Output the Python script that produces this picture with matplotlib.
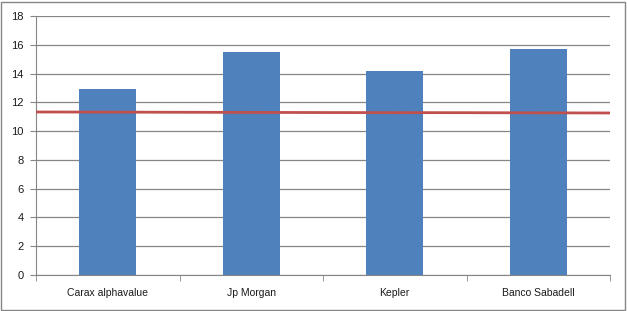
import matplotlib
matplotlib.use("Agg")
import matplotlib.pyplot as plt
import numpy as np

categories = ["Carax alphavalue", "Jp Morgan", "Kepler", "Banco Sabadell"]
values = [12.93, 15.5, 14.18, 15.7]
line_values = [11.33, 11.31, 11.29, 11.28, 11.26]
yticks = [0, 2, 4, 6, 8, 10, 12, 14, 16, 18]

W, H = 627, 311
fig = plt.figure(figsize=(W/100, H/100), dpi=100)
fig.patch.set_facecolor("white")
# outer border
fig.add_artist(plt.Rectangle((1/W, 1/H), (W-3)/W, (H-3)/H, transform=fig.transFigure,
                             fill=False, edgecolor="#868686", linewidth=1))

ax = fig.add_axes([36/W, 1-275/H, (610-36)/W, (275-16)/H])
x = np.arange(len(categories))
ax.bar(x, values, width=0.4, color="#4F81BD", zorder=2)
lx = np.linspace(-0.5, len(categories)-0.5, len(line_values))
ax.plot(lx, line_values, color="#C0504D", linewidth=2, zorder=3)

ax.set_xlim(-0.5, len(categories)-0.5)
ax.set_ylim(0, 18)
ax.set_yticks(yticks)
ax.set_yticklabels([str(v) for v in yticks])
ax.yaxis.grid(True, color="#868686", linewidth=0.9, zorder=0)
ax.set_axisbelow(True)
ax.set_xticks(x)
ax.set_xticklabels(categories)
ax.set_xticks(np.arange(-0.5, len(categories)), minor=True)
ax.tick_params(axis="x", which="major", length=0, pad=9)
ax.tick_params(axis="x", which="minor", length=4, color="#868686", direction="out")
ax.tick_params(axis="y", length=4, color="#868686", direction="out", pad=5)
for lab in ax.get_xticklabels():
    lab.set_fontsize(7.5)
    lab.set_family("Liberation Sans")
    lab.set_color("#1a1a1a")
for lab in ax.get_yticklabels():
    lab.set_fontsize(8)
    lab.set_family("Liberation Sans")
    lab.set_color("#1a1a1a")
for s in ["top", "right"]:
    ax.spines[s].set_visible(False)
ax.spines["left"].set_color("#868686")
ax.spines["bottom"].set_color("#868686")

fig.savefig("out.png", dpi=100)
